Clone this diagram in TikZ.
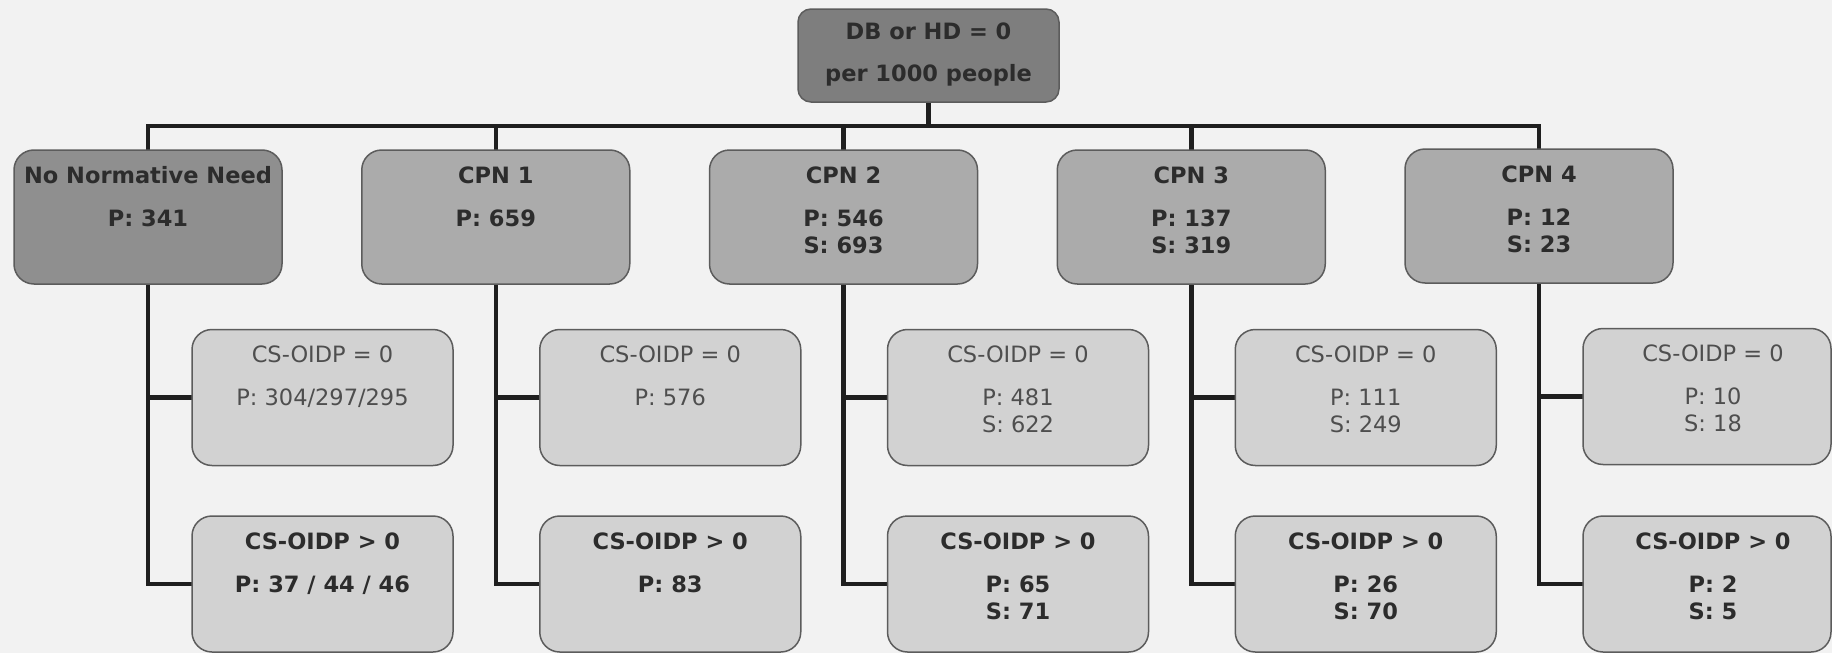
\documentclass[tikz,border=0pt]{standalone}
\usepackage{fontspec}
\setmainfont{DejaVu Sans}

\definecolor{paper}{HTML}{F2F2F2}
\definecolor{rootfill}{HTML}{7E7E7E}
\definecolor{nonefill}{HTML}{8F8F8F}
\definecolor{cpnfill}{HTML}{ABABAB}
\definecolor{subfill}{HTML}{D2D2D2}
\definecolor{edge}{HTML}{5C5C5C}
\definecolor{inkdark}{HTML}{2C2C2C}
\definecolor{inkmid}{HTML}{4E4E4E}
\definecolor{wire}{HTML}{1F1F1F}

\pgfdeclarelayer{paperlayer}
\pgfdeclarelayer{wirelayer}
\pgfsetlayers{paperlayer,wirelayer,main}

\tikzset{
  card/.style={draw=edge, line width=1.5pt, rounded corners=20pt, inner sep=0pt},
  rootcard/.style={card, fill=rootfill, rounded corners=13pt, minimum width=261pt, minimum height=93pt},
  nonecard/.style={card, fill=nonefill, minimum width=268pt, minimum height=134pt},
  cpncard/.style={card, fill=cpnfill, minimum width=268pt, minimum height=134pt},
  subcard/.style={card, fill=subfill, minimum width=261pt, minimum height=136pt},
  edgecard/.style={subcard, minimum width=248pt},
  boldtxt/.style={inner sep=0pt, font=\fontsize{22.5}{27}\selectfont\bfseries, text=inkdark},
  plaintxt/.style={inner sep=0pt, font=\fontsize{22.5}{27}\selectfont, text=inkmid},
  wirestyle/.style={draw=wire, line width=4.5pt, line cap=rect},
}

% two text lines: title and one value line
\newcommand\cardtwo[5]{% box, style, x offset, title, line
  \node[#2, anchor=base] (#1-t) at ([yshift=-34pt, xshift=#3]#1.north) {#4};
  \node[#2, anchor=base] (#1-p) at ([yshift=-77pt, xshift=#3]#1.north) {#5};
}
% three text lines: title and two value lines
\newcommand\cardthree[6]{% box, style, x offset, title, line, line
  \cardtwo{#1}{#2}{#3}{#4}{#5}
  \node[#2, anchor=base] (#1-s) at ([yshift=-104pt, xshift=#3]#1.north) {#6};
}

\begin{document}
\begin{tikzpicture}[x=1pt, y=-1pt]
  \begin{pgfonlayer}{paperlayer}
    \useasboundingbox[fill=paper] (0,0) rectangle (1832,653);
  \end{pgfonlayer}

  % root
  \node[rootcard] (root) at (928.5,55.5) {};
  \node[boldtxt, anchor=base] (root-t) at ([yshift=-31pt]root.north) {DB or HD = 0};
  \node[boldtxt, anchor=base] (root-p) at ([yshift=-73pt]root.north) {per 1000 people};

  % need categories
  \node[nonecard] (nnn)  at (148,217)     {};
  \node[cpncard]  (cpn1) at (495.75,217)  {};
  \node[cpncard]  (cpn2) at (843.5,217)   {};
  \node[cpncard]  (cpn3) at (1191.25,217) {};
  \node[cpncard]  (cpn4) at (1539,216)    {};

  % CS-OIDP splits
  \node[subcard]  (nnn-z)  at (322.5,397.5)   {};
  \node[subcard]  (nnn-g)  at (322.5,584)     {};
  \node[subcard]  (cpn1-z) at (670.25,397.5)  {};
  \node[subcard]  (cpn1-g) at (670.25,584)    {};
  \node[subcard]  (cpn2-z) at (1018,397.5)    {};
  \node[subcard]  (cpn2-g) at (1018,584)      {};
  \node[subcard]  (cpn3-z) at (1365.75,397.5) {};
  \node[subcard]  (cpn3-g) at (1365.75,584)   {};
  \node[edgecard] (cpn4-z) at (1707,396.5)    {};
  \node[edgecard] (cpn4-g) at (1707,584)      {};

  % connectors, kept beneath the boxes
  \begin{pgfonlayer}{wirelayer}
    \foreach \c in {nnn,cpn1,cpn2,cpn3,cpn4}
      \draw[wirestyle] (root.south) -- ++(0,23) -| (\c.north);
    \foreach \c in {nnn,cpn1,cpn2,cpn3,cpn4} {
      \draw[wirestyle] (\c.south) |- (\c-z.west);
      \draw[wirestyle] (\c.south) |- (\c-g.west);
    }
  \end{pgfonlayer}

  % texts
  \cardtwo{nnn}{boldtxt}{0pt}{No Normative Need}{P: 341}
  \cardtwo{cpn1}{boldtxt}{0pt}{CPN 1}{P: 659}
  \cardthree{cpn2}{boldtxt}{0pt}{CPN 2}{P: 546}{S: 693}
  \cardthree{cpn3}{boldtxt}{0pt}{CPN 3}{P: 137}{S: 319}
  \cardthree{cpn4}{boldtxt}{0pt}{CPN 4}{P: 12}{S: 23}

  \cardtwo{nnn-z}{plaintxt}{0pt}{CS-OIDP = 0}{P: 304/297/295}
  \cardtwo{nnn-g}{boldtxt}{0pt}{CS-OIDP > 0}{P: 37 / 44 / 46}
  \cardtwo{cpn1-z}{plaintxt}{0pt}{CS-OIDP = 0}{P: 576}
  \cardtwo{cpn1-g}{boldtxt}{0pt}{CS-OIDP > 0}{P: 83}
  \cardthree{cpn2-z}{plaintxt}{0pt}{CS-OIDP = 0}{P: 481}{S: 622}
  \cardthree{cpn2-g}{boldtxt}{0pt}{CS-OIDP > 0}{P: 65}{S: 71}
  \cardthree{cpn3-z}{plaintxt}{0pt}{CS-OIDP = 0}{P: 111}{S: 249}
  \cardthree{cpn3-g}{boldtxt}{0pt}{CS-OIDP > 0}{P: 26}{S: 70}
  \cardthree{cpn4-z}{plaintxt}{6pt}{CS-OIDP = 0}{P: 10}{S: 18}
  \cardthree{cpn4-g}{boldtxt}{6pt}{CS-OIDP > 0}{P: 2}{S: 5}
\end{tikzpicture}
\end{document}
